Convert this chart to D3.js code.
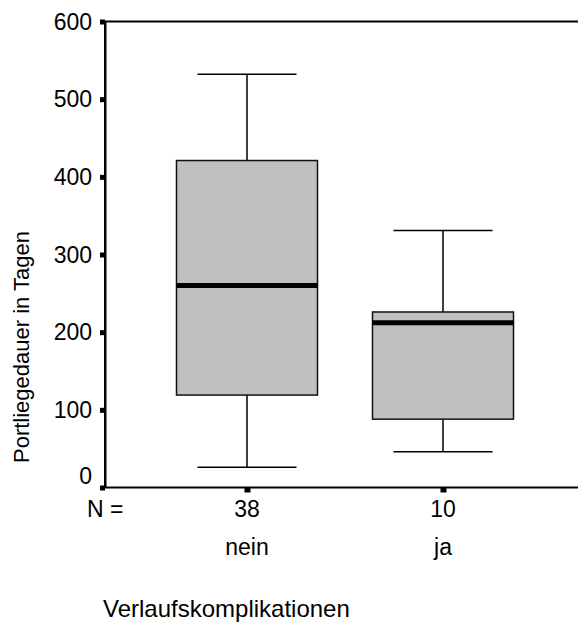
<!DOCTYPE html>
<html>
<head>
<meta charset="utf-8">
<script src="https://cdn.jsdelivr.net/npm/d3@7"></script>
<style>
  body { margin: 0; background: #fff; }
  text { font-family: "Liberation Sans", Arial, sans-serif; fill: #000; }
</style>
</head>
<body>
<div id="chart"></div>
<script>
// data
const categories = ["nein", "ja"];
const counts = [38, 10];
const whiskerLow = [26, 46];
const q1 = [119, 88];
const median = [260, 212];
const q3 = [421, 226];
const whiskerHigh = [532, 331];
const yTicks = [0, 100, 200, 300, 400, 500, 600];

const width = 578, height = 622;
const plotLeft = 105, plotTop = 21.5, plotBottom = 487.5;
const boxW = 141, capW = 99;

const svg = d3.select("#chart").append("svg")
  .attr("width", width)
  .attr("height", height);

const y = d3.scaleLinear().domain([0, 600]).range([plotBottom, plotTop]);
const x = d3.scalePoint().domain(categories).range([247, 443]);

const boxes = categories.map((c, i) => ({
  cat: c, n: counts[i], lo: whiskerLow[i], q1: q1[i], med: median[i], q3: q3[i], hi: whiskerHigh[i]
}));

// frame (right side runs off the page)
svg.append("rect")
  .attr("x", plotLeft).attr("y", plotTop)
  .attr("width", 600).attr("height", plotBottom - plotTop)
  .attr("fill", "none").attr("stroke", "#000").attr("stroke-width", 2);

const g = svg.append("g").selectAll("g").data(boxes).enter().append("g");

// whiskers
g.append("line")
  .attr("x1", d => x(d.cat)).attr("x2", d => x(d.cat))
  .attr("y1", d => y(d.hi)).attr("y2", d => y(d.q3))
  .attr("stroke", "#000").attr("stroke-width", 1.5);
g.append("line")
  .attr("x1", d => x(d.cat)).attr("x2", d => x(d.cat))
  .attr("y1", d => y(d.q1)).attr("y2", d => y(d.lo))
  .attr("stroke", "#000").attr("stroke-width", 1.5);
g.selectAll(".cap").data(d => [d.hi, d.lo].map(v => ({ cat: d.cat, v })))
  .enter().append("line")
  .attr("x1", d => x(d.cat) - capW / 2).attr("x2", d => x(d.cat) + capW / 2)
  .attr("y1", d => y(d.v)).attr("y2", d => y(d.v))
  .attr("stroke", "#000").attr("stroke-width", 1.5);

// box
g.append("rect")
  .attr("x", d => x(d.cat) - boxW / 2)
  .attr("y", d => y(d.q3))
  .attr("width", boxW)
  .attr("height", d => y(d.q1) - y(d.q3))
  .attr("fill", "#c0c0c0").attr("stroke", "#111").attr("stroke-width", 1.5);

// median
g.append("line")
  .attr("x1", d => x(d.cat) - boxW / 2).attr("x2", d => x(d.cat) + boxW / 2)
  .attr("y1", d => y(d.med)).attr("y2", d => y(d.med))
  .attr("stroke", "#000").attr("stroke-width", 5);

// y axis
const yAxis = d3.axisLeft(y).tickValues(yTicks).tickSizeInner(5).tickSizeOuter(0).tickPadding(8);
const ya = svg.append("g").attr("transform", `translate(${plotLeft},0)`).call(yAxis);
ya.select(".domain").attr("stroke", "#000").attr("stroke-width", 2);
ya.selectAll(".tick line").attr("stroke", "#000").attr("stroke-width", 5);
ya.selectAll(".tick text")
  .style("font-size", "23px")
  .attr("dy", d => d === 0 ? "-0.18em" : "0.33em");

// x axis ticks (small squares below the axis)
const xAxis = d3.axisBottom(x).tickSizeInner(5).tickSizeOuter(0).tickFormat("");
const xa = svg.append("g").attr("transform", `translate(0,${plotBottom})`).call(xAxis);
xa.select(".domain").remove();
xa.selectAll(".tick line").attr("stroke", "#000").attr("stroke-width", 6);

// N row and category labels
svg.append("text").attr("x", 87).attr("y", 517).style("font-size", "23px").text("N =");
svg.selectAll(".nlab").data(boxes).enter().append("text")
  .attr("x", d => x(d.cat)).attr("y", 517)
  .attr("text-anchor", "middle").style("font-size", "23px")
  .text(d => d.n);
svg.selectAll(".clab").data(boxes).enter().append("text")
  .attr("x", d => x(d.cat)).attr("y", 555)
  .attr("text-anchor", "middle").style("font-size", "23px")
  .text(d => d.cat);

// axis titles
svg.append("text").attr("x", 103).attr("y", 617).style("font-size", "24px")
  .text("Verlaufskomplikationen");
svg.append("text")
  .attr("transform", "translate(29,347) rotate(-90)")
  .attr("text-anchor", "middle").style("font-size", "22px")
  .text("Portliegedauer in Tagen");
</script>
</body>
</html>
